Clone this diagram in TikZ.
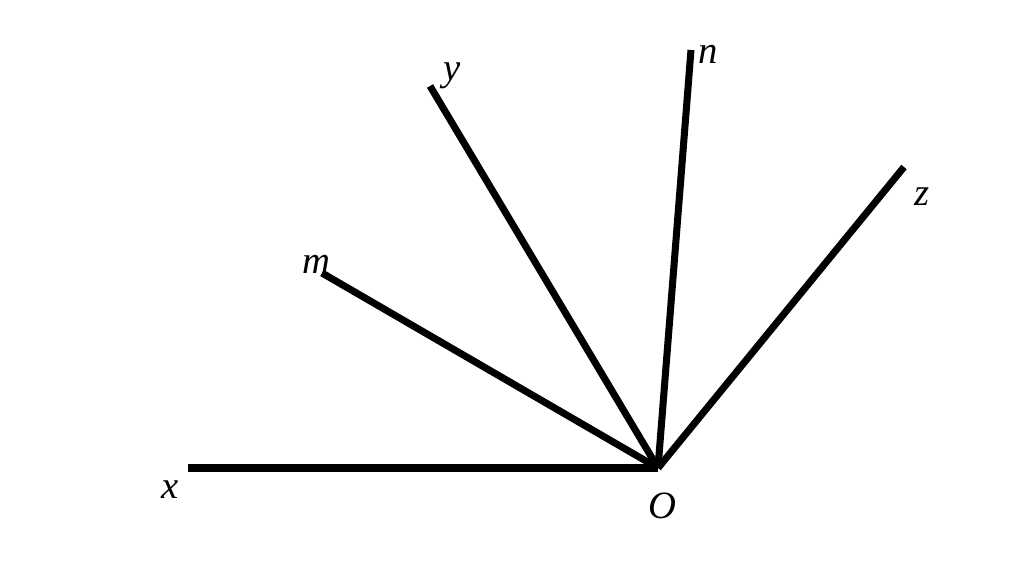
\documentclass[tikz,border=0pt]{standalone}
\usepackage{fontspec}
\setmainfont{Liberation Serif}
\usepackage{tikz}
\tikzset{
  ray/.style={line width=4pt},
  lbl/.style={font=\fontsize{22}{26}\selectfont\itshape, inner sep=0pt},
}
\begin{document}
\begin{tikzpicture}[x=0.02cm,y=-0.02cm]
  \useasboundingbox (0,0) rectangle (1024,570);
  \coordinate (O) at (658,468);
  \coordinate (x) at (188,468);
  \coordinate (m) at (322,273);
  \coordinate (y) at (430,86);
  \coordinate (n) at (691,50);
  \coordinate (z) at (904,167);

  \node[lbl] (labelO) at (662,506) {O};
  \node[lbl] (labelx) at (170,490) {x};
  \node[lbl] (labelm) at (316,264) {m};
  \node[lbl] (labely) at (452,76) {y};
  \node[lbl] (labeln) at (708,54) {n};
  \node[lbl] (labelz) at (922,197) {z};

  \draw[ray] (O) -- (x);
  \draw[ray] (O) -- (m);
  \draw[ray] (O) -- (y);
  \draw[ray] (O) -- (n);
  \draw[ray] (O) -- (z);
\end{tikzpicture}
\end{document}
